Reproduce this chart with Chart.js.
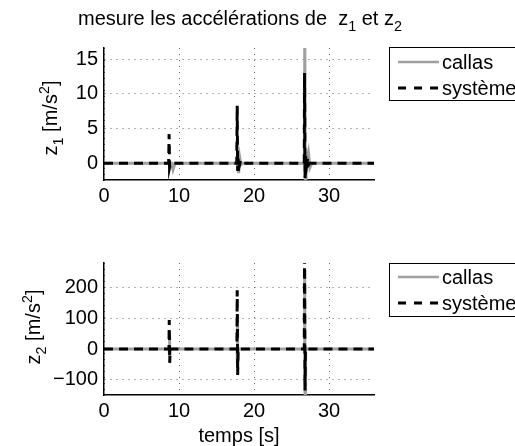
<!DOCTYPE html>
<html>
<head>
<meta charset="utf-8">
<script src="https://cdn.jsdelivr.net/npm/chart.js@4.4.0/dist/chart.umd.min.js"></script>
<style>
  body { margin: 0; width: 515px; height: 446px; overflow: hidden; background: #fff; position: relative;
         font-family: "Liberation Sans", Arial, sans-serif; color: #000; }
  canvas { position: absolute; left: 0; }
  #c1 { top: 0; }
  #c2 { top: 223px; }
  .lbl { position: absolute; white-space: nowrap; line-height: 1; }
  .rot { transform: translate(-50%, -50%) rotate(-90deg); }
  .mid { transform: translate(-50%, -50%); }
  sub { font-size: 72%; line-height: 0; vertical-align: -0.45em; }
  sup { font-size: 72%; line-height: 0; vertical-align: 0.55em; }
</style>
</head>
<body>
<canvas id="c1" width="515" height="223"></canvas>
<canvas id="c2" width="515" height="223"></canvas>
<div class="lbl" style="left:78px;top:8px;font-size:20px">mesure les accélérations de&nbsp; z<sub>1</sub> et z<sub>2</sub></div>
<div class="lbl rot" style="left:50px;top:118px;font-size:20px">z<sub>1</sub> [m/s<sup>2</sup>]</div>
<div class="lbl rot" style="left:33px;top:327px;font-size:20px">z<sub>2</sub> [m/s<sup>2</sup>]</div>
<div class="lbl mid" style="left:239px;top:435px;font-size:20px">temps [s]</div>
<script>
  // === data ===
  const xTicks = [0, 10, 20, 30];
  const z1Ticks = [0, 5, 10, 15];
  const z2Ticks = [-100, 0, 100, 200];

  // z1 : callas (grey) / systeme (dashed black)
  const z1CalT = [0, 9.0, 9.2, 9.45, 17.8, 17.95, 18.1, 18.25, 18.45, 26.7, 26.76, 26.85, 27.05, 27.25, 27.45, 27.7, 36];
  const z1CalV = [0, 0, -0.9, 0, 0, -1.4, 0.8, -0.2, 0, 0, 22, -4, 0.6, 1.6, -0.6, 0, 0];
  const z1SysT = [0, 8.62, 8.68, 8.74, 8.82, 8.95, 17.7, 17.76, 17.82, 17.92, 18.05, 18.2, 18.35, 26.7, 26.74, 26.8, 26.9, 27.0, 27.15, 27.3, 27.45, 36];
  const z1SysV = [0, 0, 4.2, -0.6, -0.2, 0, 0, 8.3, -1.1, 0.3, -0.3, 0.4, 0, 0, 13.0, -2.1, 1.0, -0.4, 0.7, -0.2, 0, 0];

  // z2
  const z2CalT = [0, 8.68, 8.72, 8.78, 8.84, 17.74, 17.78, 17.84, 17.9, 26.72, 26.76, 26.82, 26.88, 36];
  const z2CalV = [0, 0, 40, -25, 0, 0, 110, -60, 0, 0, 260, -260, 0, 0];
  const z2SysT = [0, 8.66, 8.7, 8.76, 8.82, 17.72, 17.76, 17.82, 17.88, 26.7, 26.74, 26.8, 26.86, 36];
  const z2SysV = [0, 0, 95, -45, 0, 0, 192, -85, 0, 0, 320, -135, 0, 0];

  const pts = (t, v) => t.map((x, i) => ({ x: x, y: v[i] }));
  const FONT = '"Liberation Sans", Arial, sans-serif';

  // boxed legend like matlab, drawn at a fixed spot
  const boxLegend = {
    id: 'boxLegend',
    afterDraw(chart, args, o) {
      const ctx = chart.ctx;
      ctx.save();
      ctx.fillStyle = '#fff';
      ctx.fillRect(o.x, o.y, 200, o.h);
      ctx.lineWidth = 1;
      ctx.strokeStyle = '#000';
      ctx.strokeRect(o.x + 0.5, o.y + 0.5, 200, o.h);
      chart.data.datasets.forEach((ds, i) => {
        const y = o.y + o.rows[i];
        ctx.beginPath();
        ctx.setLineDash(ds.borderDash ? [8, 8] : []);
        ctx.strokeStyle = ds.borderColor;
        ctx.lineWidth = ds.borderDash ? 3 : 2.5;
        ctx.moveTo(o.x + 9, y);
        ctx.lineTo(o.x + 50, y);
        ctx.stroke();
        ctx.setLineDash([]);
        ctx.fillStyle = '#000';
        ctx.font = '20px ' + FONT;
        ctx.textBaseline = 'middle';
        ctx.fillText(ds.label, o.x + 53, y + 1);
      });
      ctx.restore();
    }
  };

  function makeChart(id, cal, sys, yMin, yMax, yTicks, top, bottom, legend) {
    return new Chart(document.getElementById(id), {
      type: 'scatter',
      data: {
        datasets: [
          { label: 'callas', data: cal, showLine: true, borderColor: '#a0a0a0', borderWidth: 3,
            pointRadius: 0, order: 1 },
          { label: 'système', data: sys, showLine: true, borderColor: '#000', borderWidth: 3,
            borderDash: [9, 6], pointRadius: 0, order: 0 }
        ]
      },
      options: {
        responsive: false,
        animation: false,
        layout: { padding: { left: 0, right: 141, top: top, bottom: 0 } },
        plugins: { legend: { display: false }, tooltip: { enabled: false }, boxLegend: legend },
        scales: {
          x: {
            type: 'linear', min: 0, max: 36,
            afterBuildTicks: s => { s.ticks = xTicks.map(v => ({ value: v })); },
            afterFit: s => { s.height = 223 - bottom; },
            ticks: { color: '#000', font: { size: 20, family: FONT }, padding: 4, maxRotation: 0 },
            grid: { color: '#666', lineWidth: 1, drawTicks: false },
            border: { display: true, color: '#000', width: 1.5, dash: [1, 5] }
          },
          y: {
            type: 'linear', min: yMin, max: yMax,
            afterBuildTicks: s => { s.ticks = yTicks.map(v => ({ value: v })); },
            afterFit: s => { s.width = 104; },
            ticks: { color: '#000', font: { size: 20, family: FONT }, padding: 6,
                     callback: v => String(v).replace('-', '\u2212') },
            grid: { color: '#666', lineWidth: 1, drawTicks: false },
            border: { display: true, color: '#000', width: 1.5, dash: [1, 5] }
          }
        }
      },
      plugins: [boxLegend]
    });
  }

  makeChart('c1', pts(z1CalT, z1CalV), pts(z1SysT, z1SysV), -2.4, 16.6, z1Ticks, 48, 180,
            { x: 389, y: 47, h: 53, rows: [15, 41] });
  makeChart('c2', pts(z2CalT, z2CalV), pts(z2SysT, z2SysV), -150, 281, z2Ticks, 40, 172,
            { x: 389, y: 40, h: 53, rows: [14, 40] });
</script>
</body>
</html>
